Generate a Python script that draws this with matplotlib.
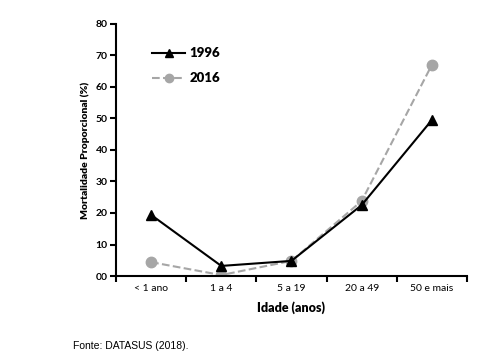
import matplotlib
matplotlib.use('Agg')
import matplotlib.pyplot as plt
import numpy as np

plt.rcParams['font.family'] = ['Lato', 'DejaVu Sans']

idades = ['< 1 ano', '1 a 4', '5 a 19', '20 a 49', '50 e mais']
mort_1996 = [19.4, 3.2, 4.8, 22.5, 49.5]
mort_2016 = [4.4, 0.3, 4.8, 23.8, 67.0]

fig = plt.figure(figsize=(5.01, 3.56), dpi=100)
ax = fig.add_axes([0.2315, 0.2247, 0.7005, 0.708])

x = np.arange(len(idades))
ax.plot(x, mort_2016, color='#a6a6a6', linestyle='--', linewidth=1.5,
        marker='o', markersize=7.5, label='2016', zorder=2)
ax.plot(x, mort_1996, color='black', linestyle='-', linewidth=1.5,
        marker='^', markersize=6.5, label='1996', zorder=3)

ax.set_xlim(-0.5, 4.5)
ax.set_ylim(0, 80)
ax.set_yticks(range(0, 81, 10))
ax.set_yticklabels(['00', '10', '20', '30', '40', '50', '60', '70', '80'],
                   fontweight='bold', fontsize=7.5)
ax.set_xticks(x)
ax.set_xticklabels(idades, fontsize=7.5)
ax.set_xticks(np.arange(-0.5, 5, 1), minor=True)
ax.tick_params(axis='x', which='major', length=0, pad=6)
ax.tick_params(axis='x', which='minor', length=4, width=1.5, direction='out')
ax.tick_params(axis='y', length=4, width=1.5, direction='out', pad=2)

for s in ['top', 'right']:
    ax.spines[s].set_visible(False)
for s in ['left', 'bottom']:
    ax.spines[s].set_linewidth(1.5)

ax.set_xlabel('Idade (anos)', fontweight='heavy', fontsize=9, labelpad=6)
ax.set_ylabel('Mortalidade Proporcional (%)', fontweight='heavy', fontsize=7.5, labelpad=4)

handles, labels = ax.get_legend_handles_labels()
ax.legend(handles[::-1], labels[::-1], loc='upper left', bbox_to_anchor=(0.07, 0.955),
          frameon=False, prop={'weight': 'heavy', 'size': 9.5}, handlelength=2.5,
          labelspacing=1.0, handletextpad=0.3, markerscale=0.8)

fig.text(0.145, 0.02, 'Fonte: DATASUS (2018).', fontsize=7.5, family='Liberation Sans')

fig.savefig('out.png', dpi=100)
